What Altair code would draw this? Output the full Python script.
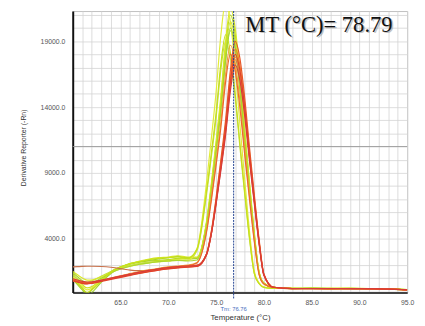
import altair as alt
import pandas as pd

# Temperature grid (°C) shared by all curves
TEMPS = [60, 60.5, 61, 61.5, 62, 63, 64, 65, 66, 67, 68, 69, 70, 71, 72, 73, 74,
         74.5, 75, 75.5, 76, 76.5, 77, 77.5, 78, 78.5, 79, 79.5, 80,
         81, 83, 85, 87, 89, 91, 93, 95]

# Derivative reporter values per well
GA = [1000, 650, 250, -150, 150, 900, 1500, 1850, 2050, 2200, 2300, 2350, 2400, 2500, 2450, 2490, 5190,
      7980, 11140, 14490, 18580, 21000, 19540, 16220, 12060, 8100, 4360, 1450, 616,
      300, 210, 230, 200, 210, 190, 170, 110]
GB = [1300, 900, 500, 250, 350, 950, 1450, 1750, 1950, 2100, 2200, 2300, 2350, 2450, 2500, 2530, 5160,
      7865, 10930, 14180, 18150, 20500, 19080, 15830, 11770, 7910, 4260, 1420, 606,
      300, 220, 200, 210, 220, 200, 180, 120]
GC = [900, 500, 100, -300, -100, 700, 1350, 1800, 2100, 2250, 2350, 2450, 2550, 2650, 2550, 2520, 5095,
      7690, 10630, 13745, 17550, 19800, 18430, 15290, 11370, 7650, 4120, 1380, 590,
      290, 200, 220, 190, 200, 210, 160, 100]
GD = [1200, 950, 750, 700, 800, 1150, 1500, 1750, 1950, 2100, 2200, 2250, 2300, 2350, 2350, 3080, 7345,
      10175, 13170, 16835, 19000, 17680, 14680, 10920, 7345, 3960, 1330, 576, 294,
      230, 210, 240, 220, 190, 200, 190, 130]
GE = [1500, 1250, 1000, 850, 850, 1100, 1450, 1800, 2100, 2300, 2450, 2550, 2600, 2700, 2600, 2590, 5310,
      8165, 11400, 14830, 19020, 21500, 20010, 16600, 12340, 8290, 4460, 1480, 626,
      300, 220, 210, 230, 210, 190, 180, 120]
GF = [1100, 800, 400, 100, 250, 850, 1400, 1700, 1900, 2050, 2150, 2250, 2300, 2400, 2350, 3230, 8245,
      11585, 15120, 19450, 22000, 20470, 16990, 12630, 8480, 4560, 1510, 636, 309,
      220, 230, 210, 200, 230, 200, 170, 110]
GG = [1400, 1100, 800, 600, 650, 1000, 1400, 1700, 1900, 2050, 2150, 2250, 2300, 2350, 2300, 2377, 4955,
      7610, 10620, 13805, 17700, 20000, 18610, 15450, 11490, 7720, 4160, 1390, 596,
      290, 215, 225, 205, 215, 195, 175, 115]
GH = [1000, 600, 200, -100, 100, 800, 1450, 1850, 2100, 2250, 2400, 2500, 2550, 2600, 2500, 3200, 7600,
      10490, 13550, 17290, 19500, 18150, 15060, 11200, 7530, 4060, 1360, 586, 297,
      215, 205, 215, 195, 205, 195, 165, 105]
OA = [900, 800, 700, 650, 680, 830, 1000, 1180, 1350, 1500, 1630, 1750, 1850, 1920, 1980, 2186, 4590,
      7080, 9900, 12890, 16540, 18700, 17400, 14450, 10745, 7230, 3900, 1310, 570,
      290, 200, 210, 190, 200, 190, 170, 110]
OB = [780, 680, 600, 580, 620, 780, 950, 1120, 1280, 1430, 1560, 1680, 1780, 1850, 1900, 1950, 2840,
      4477, 6934, 9720, 12670, 16270, 18400, 17130, 14210, 10570, 7120, 3840, 1290,
      300, 210, 200, 200, 210, 190, 170, 110]
OC = [880, 780, 680, 640, 660, 820, 980, 1150, 1310, 1460, 1590, 1710, 1810, 1880, 1930, 1980, 2840,
      4410, 6775, 9450, 12290, 15750, 17800, 16570, 13750, 10230, 6890, 3720, 1256,
      300, 205, 205, 195, 205, 185, 165, 105]
OD = [820, 720, 640, 600, 640, 800, 970, 1140, 1300, 1450, 1590, 1710, 1810, 1880, 1940, 2149, 4485,
      6870, 9570, 12435, 15930, 18000, 16750, 13910, 10350, 6965, 3760, 1270, 556,
      290, 200, 205, 195, 200, 190, 170, 110]
RA = [850, 750, 650, 620, 650, 800, 950, 1100, 1250, 1380, 1500, 1620, 1720, 1800, 1850, 1900, 2850,
      4550, 7100, 9990, 13050, 16790, 19000, 17680, 14680, 10920, 7345, 3960, 1330,
      300, 200, 210, 200, 190, 200, 160, 100]
RB = [800, 700, 600, 560, 600, 750, 900, 1050, 1200, 1350, 1480, 1600, 1700, 1780, 1830, 1880, 2750,
      4360, 6765, 9495, 12380, 15910, 18000, 16750, 13910, 10350, 6965, 3760, 1270,
      300, 200, 200, 190, 200, 180, 160, 100]
RC = [950, 850, 750, 700, 720, 850, 1000, 1150, 1300, 1450, 1580, 1700, 1800, 1870, 1920, 1960, 2810,
      4320, 6595, 9170, 11900, 15230, 17200, 16010, 13290, 9890, 6660, 3600, 1220,
      300, 210, 200, 210, 200, 190, 170, 110]
BR = [1850, 1870, 1890, 1900, 1900, 1880, 1820, 1720, 1600, 1560, 1600, 1680, 1760, 1820, 1860, 1900, 2760,
      4323, 6666, 9320, 12130, 15570, 17600, 16380, 13600, 10120, 6810, 3680, 1244,
      300, 200, 210, 200, 190, 190, 170, 100]

CURVES = {"GA": GA, "GB": GB, "GC": GC, "GD": GD, "GE": GE, "GF": GF, "GG": GG, "GH": GH,
          "BR": BR, "OA": OA, "OB": OB, "OC": OC, "OD": OD, "RA": RA, "RB": RB, "RC": RC}
COLORS = ["#b5d91c", "#cde32a", "#9fce2a", "#c2dc48", "#d9e826", "#e2ec3a", "#aad630", "#c6e01a",
          "#c8704a", "#f2a33a", "#f07a2a", "#f09040", "#ec6a2c", "#e8582a", "#e0402a", "#d83a3a"]

X_GRID = list(range(60, 96))
Y_GRID = list(range(0, 22000, 1000))
TM = 76.84
TM_LABEL = "Tm: 76.76"
TITLE = "MT (°C)= 78.79"
DARK_GRID = 11000

rows = []
for name, vals in CURVES.items():
    for t, v in zip(TEMPS, vals):
        rows.append({"temp": t, "value": v, "well": name})
df = pd.DataFrame(rows)

H = 287
xscale = alt.Scale(domain=[60, 95], nice=False, zero=False)
yscale = alt.Scale(domain=[-100, 21300], nice=False, zero=False)

x_axis = alt.Axis(values=X_GRID, ticks=False, grid=True, gridColor="#d4d4d4", gridWidth=0.8,
                  labelExpr="datum.value % 5 === 0 && datum.value > 60 ? format(datum.value, '.1f') : ''",
                  labelOverlap=False, labelBound=False,
                  labelFont="Liberation Sans", labelFontSize=7, labelColor="#555", labelPadding=6,
                  domainColor="#111", domainWidth=1.5, title="Temperature (°C)",
                  titleFont="Liberation Sans", titleFontSize=8, titleFontWeight="normal",
                  titleColor="#333", titlePadding=8, labelFlush=False)
y_axis = alt.Axis(values=Y_GRID, ticks=False, grid=True, gridColor="#d4d4d4", gridWidth=0.8,
                  labelExpr="datum.value % 5000 === 4000 ? format(datum.value, '.1f') : ''",
                  labelOverlap=False,
                  labelFont="Liberation Sans", labelFontSize=7, labelColor="#555", labelPadding=8,
                  domainColor="#111", domainWidth=2, title="Derivative Reporter (-Rn)",
                  titleFont="Liberation Sans", titleFontSize=7, titleFontWeight="normal",
                  titleColor="#333", titleX=-50, titleY=139, titleAngle=-90,
                  titleAlign="center", titleBaseline="middle")

dark = alt.Chart(pd.DataFrame({"y": [DARK_GRID]})).mark_rule(color="#9a9a9a", strokeWidth=0.9).encode(
    y=alt.Y("y:Q", scale=yscale, axis=y_axis)
)

lines = alt.Chart(df).mark_line(strokeWidth=1.2, interpolate="monotone", clip=True).encode(
    x=alt.X("temp:Q", scale=xscale, axis=x_axis),
    y=alt.Y("value:Q", scale=yscale, axis=y_axis),
    color=alt.Color("well:N", scale=alt.Scale(domain=list(CURVES.keys()), range=COLORS), legend=None),
    detail="well:N",
)

tm_rule = alt.Chart(pd.DataFrame({"t": [TM]})).mark_rule(
    color="#1f3f8f", strokeWidth=1, strokeDash=[2, 1]
).encode(x=alt.X("t:Q", scale=xscale, axis=x_axis), y=alt.value(0), y2=alt.value(H + 6))

tm_text = alt.Chart(pd.DataFrame({"t": [TM], "label": [TM_LABEL]})).mark_text(
    fontSize=6, font="Liberation Sans", color="#4a6cc0", align="center", baseline="middle"
).encode(x=alt.X("t:Q", scale=xscale, axis=x_axis), y=alt.value(H + 17), text="label:N")

title_shadow = alt.Chart(pd.DataFrame({"label": [TITLE]})).mark_text(
    font="Liberation Serif", fontSize=23, color="#9a9a9a", opacity=0.6, align="left", baseline="alphabetic"
).encode(x=alt.value(177.5), y=alt.value(22.5), text="label:N")
title_text = alt.Chart(pd.DataFrame({"label": [TITLE]})).mark_text(
    font="Liberation Serif", fontSize=23, color="#111", align="left", baseline="alphabetic"
).encode(x=alt.value(176), y=alt.value(21), text="label:N")

chart = alt.layer(dark, lines, tm_rule, tm_text, title_shadow, title_text).properties(
    width=341, height=H,
    padding={"left": 66, "top": 0, "right": 10, "bottom": 31},
    autosize=alt.AutoSizeParams(type="none"),
    background="white",
).configure_view(stroke="#c0c0c0", strokeWidth=1)

chart.save("out.html", embed_options={"renderer": "svg", "actions": False})
